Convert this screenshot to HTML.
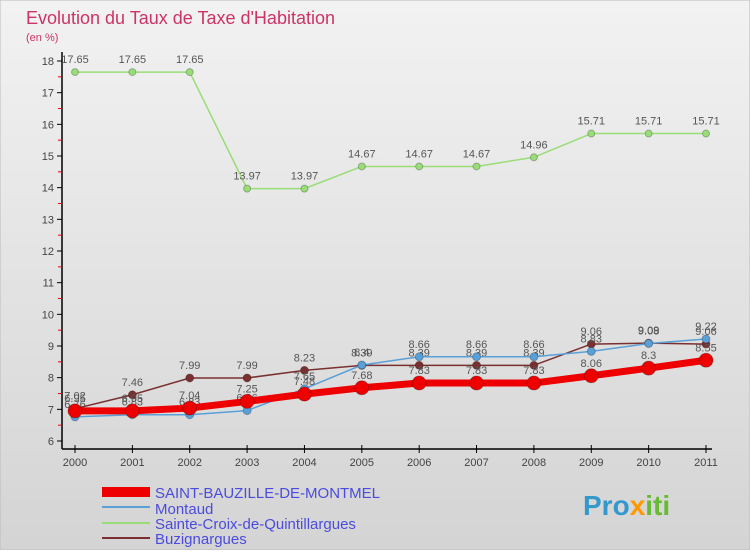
<!DOCTYPE html>
<html><head><meta charset="utf-8"><style>
body{margin:0;width:750px;height:550px;overflow:hidden;font-family:"Liberation Sans",sans-serif}
</style></head><body>
<svg width="750" height="550" xmlns="http://www.w3.org/2000/svg">
<defs><linearGradient id="bg" x1="0" y1="0" x2="0" y2="1"><stop offset="0" stop-color="#f2f2f2"/><stop offset="1" stop-color="#d4d4d4"/></linearGradient></defs>
<rect width="750" height="550" fill="url(#bg)" stroke="#bbb"/>
<text x="26" y="24" font-size="18" fill="#cc3366">Evolution du Taux de Taxe d'Habitation</text>
<text x="26" y="41" font-size="11" fill="#cc3366">(en %)</text>
<g id="axes"></g>
<g id="series"></g>
<g>
<rect x="102" y="487" width="48" height="10" fill="#ee0000"/>
<text x="155" y="498" font-size="15" fill="#4b4bdd">SAINT-BAUZILLE-DE-MONTMEL</text>
<line x1="102" y1="507" x2="150" y2="507" stroke="#5aa0d8" stroke-width="2"/>
<text x="155" y="514" font-size="15" fill="#4b4bdd">Montaud</text>
<line x1="102" y1="523" x2="150" y2="523" stroke="#99dd77" stroke-width="2"/>
<text x="155" y="529" font-size="15" fill="#4b4bdd">Sainte-Croix-de-Quintillargues</text>
<line x1="102" y1="538" x2="150" y2="538" stroke="#7a3030" stroke-width="2"/>
<text x="155" y="544" font-size="15" fill="#4b4bdd">Buzignargues</text>
</g>
<text x="583" y="515" font-size="28" font-weight="bold" fill="#3399cc">Pro<tspan fill="#ff9900">x</tspan><tspan fill="#66bb33">iti</tspan></text>
</svg>
<script>
const years=[2000,2001,2002,2003,2004,2005,2006,2007,2008,2009,2010,2011];
const yTicks=[6,7,8,9,10,11,12,13,14,15,16,17,18];
const saintBauzille=[6.95,6.95,7.04,7.25,7.48,7.68,7.83,7.83,7.83,8.06,8.3,8.55];
const montaud=[6.76,6.83,6.83,6.96,7.65,8.4,8.66,8.66,8.66,8.83,9.08,9.22];
const sainteCroix=[17.65,17.65,17.65,13.97,13.97,14.67,14.67,14.67,14.96,15.71,15.71,15.71];
const buzignargues=[7.02,7.46,7.99,7.99,8.23,8.39,8.39,8.39,8.39,9.06,9.09,9.06];
const NS="http://www.w3.org/2000/svg";
const xS=i=>75+i*(706-75)/(years.length-1);
const yS=v=>441-(v-6)*(441-61)/12;
function mk(tag,attrs,parent){const e=document.createElementNS(NS,tag);for(const k in attrs)e.setAttribute(k,attrs[k]);parent.appendChild(e);return e;}
const ax=document.getElementById('axes');
let l=mk('line',{x1:62,y1:52,x2:62,y2:449,stroke:'#000','stroke-width':1.5},ax);


l=mk('line',{x1:62,y1:449,x2:712,y2:449,stroke:'#000','stroke-width':1.5},ax);


yTicks.forEach(v=>{const y=yS(v);
 mk('line',{x1:57,y1:y,x2:62,y2:y,stroke:'#000'},ax);
 if(v<18)mk('line',{x1:58,y1:yS(v+0.5),x2:62,y2:yS(v+0.5),stroke:'#e00'},ax);
 const t=mk('text',{x:54,y:y+4,'font-size':11,fill:'#444','text-anchor':'end'},ax);t.textContent=v;
 
 
});
years.forEach((yr,i)=>{const x=xS(i);
 mk('line',{x1:x,y1:445,x2:x,y2:453,stroke:'#000'},ax);
 const t=mk('text',{x:x,y:466,'font-size':11,fill:'#444','text-anchor':'middle'},ax);t.textContent=yr;
 
 
});
const sg=document.getElementById('series');
function series(data,name,color,w,r,labelColor){
 const g=mk('g',{},sg);
 
 
 const p=mk('polyline',{points:data.map((v,i)=>xS(i)+','+yS(v)).join(' '),fill:'none',stroke:color,'stroke-width':w,'stroke-linejoin':'round'},g);
 
 
 data.forEach((v,i)=>{
  const c=mk('circle',{cx:xS(i),cy:yS(v),r:r,fill:color,stroke:'rgba(0,0,0,0.25)'},g);
  
  
  const t=mk('text',{x:xS(i),y:yS(v)-9,'font-size':11,fill:'#555','text-anchor':'middle'},g);
  t.textContent=String(v);
  
  
 });
}
series(sainteCroix,'sainte-croix-series','#99dd77',1.5,3.5);
series(buzignargues,'buzignargues-series','#7a3030',1.5,4);
series(montaud,'montaud-series','#5aa0d8',1.5,4);
series(saintBauzille,'saint-bauzille-series','#ee0000',7,7);
</script>
</body></html>
